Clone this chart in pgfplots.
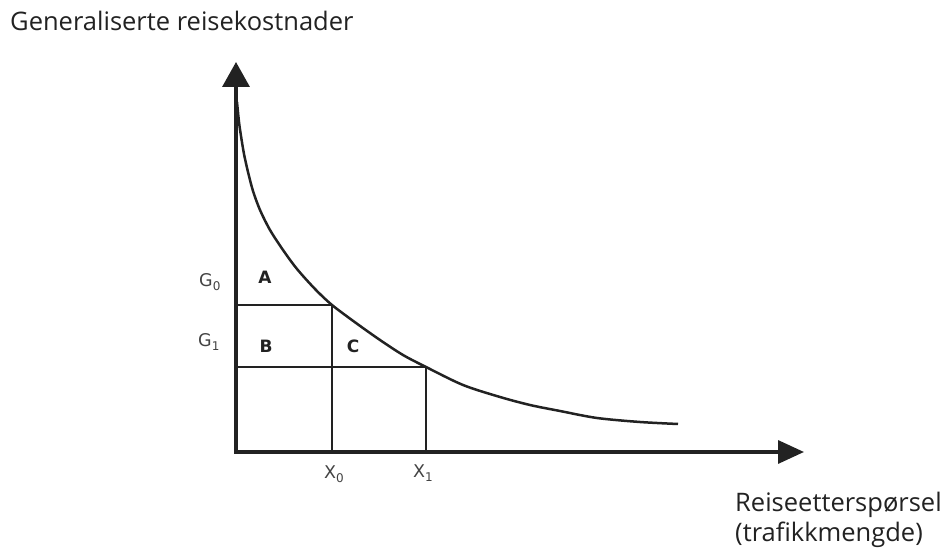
\documentclass[border=0pt]{standalone}
\usepackage{pgfplots}
\pgfplotsset{compat=1.18}
\usepackage{fontspec}
\setmainfont{Open Sans}
\newfontfamily\lblf{DejaVu Sans}
\usetikzlibrary{arrows.meta}
\definecolor{ink}{HTML}{222222}
\newcommand{\sub}[1]{\raisebox{-3.5bp}{\fontsize{12bp}{14bp}\selectfont #1}}
\begin{document}
\begin{tikzpicture}
\begin{axis}[
  scale only axis, width=951bp, height=552bp,
  xmin=0, xmax=951, ymin=0, ymax=552,
  axis lines=none, clip=false,
]
\path (axis cs:0,0) rectangle (axis cs:951,552);
% axes
\addplot[line width=3.4bp, color=ink, -{Triangle[length=25bp, width=27bp]}] coordinates {(236,98.3) (236,490)};
\addplot[line width=3.4bp, color=ink, -{Triangle[length=26bp, width=23bp]}] coordinates {(234.3,100) (804,100)};
% curve
\addplot[line width=2.5bp, color=ink, smooth, tension=0.5] coordinates {
(237,450) (239,430) (241,416) (244,398) (248,380) (253,361) (260,342) (270,322) (283,302) (297,283) (315,263) (332,247)
(356,229) (380,212) (403,197) (426,185) (463,167) (500,155) (530,147) (560,141) (597,134) (640,130) (678,128)};
% rectangles
\addplot[line width=2.9bp, color=ink] coordinates {(236,247) (332,247) (332,100)};
\addplot[line width=2.9bp, color=ink] coordinates {(236,185) (426,185) (426,100)};
% labels
\node[anchor=base west, font=\fontsize{25.5bp}{29bp}\selectfont, text=ink, inner sep=0pt] at (axis cs:10,521) {Generaliserte reisekostnader};
\node[anchor=base west, font=\fontsize{25.5bp}{29bp}\selectfont, text=ink, inner sep=0pt] at (axis cs:735,40) {Reiseetterspørsel};
\node[anchor=base west, font=\fontsize{25.5bp}{29bp}\selectfont, text=ink, inner sep=0pt] at (axis cs:735,11) {(trafikkmengde)};
\node[anchor=base west, font=\lblf\fontsize{17.5bp}{20bp}\selectfont, text=ink!85, inner sep=0pt] at (axis cs:199,265) {G\sub{0}};
\node[anchor=base west, font=\lblf\fontsize{17.5bp}{20bp}\selectfont, text=ink!85, inner sep=0pt] at (axis cs:198,205) {G\sub{1}};
\node[anchor=base west, font=\lblf\fontsize{17.5bp}{20bp}\selectfont, text=ink!85, inner sep=0pt] at (axis cs:324,73) {X\sub{0}};
\node[anchor=base west, font=\lblf\fontsize{17.5bp}{20bp}\selectfont, text=ink!85, inner sep=0pt] at (axis cs:413,74) {X\sub{1}};
\node[anchor=base, font=\lblf\bfseries\fontsize{17bp}{20bp}\selectfont, text=ink, inner sep=0pt] at (axis cs:265,268) {A};
\node[anchor=base, font=\lblf\bfseries\fontsize{17bp}{20bp}\selectfont, text=ink, inner sep=0pt] at (axis cs:266,199) {B};
\node[anchor=base, font=\lblf\bfseries\fontsize{17bp}{20bp}\selectfont, text=ink, inner sep=0pt] at (axis cs:353,199) {C};
\end{axis}
\end{tikzpicture}
\end{document}
